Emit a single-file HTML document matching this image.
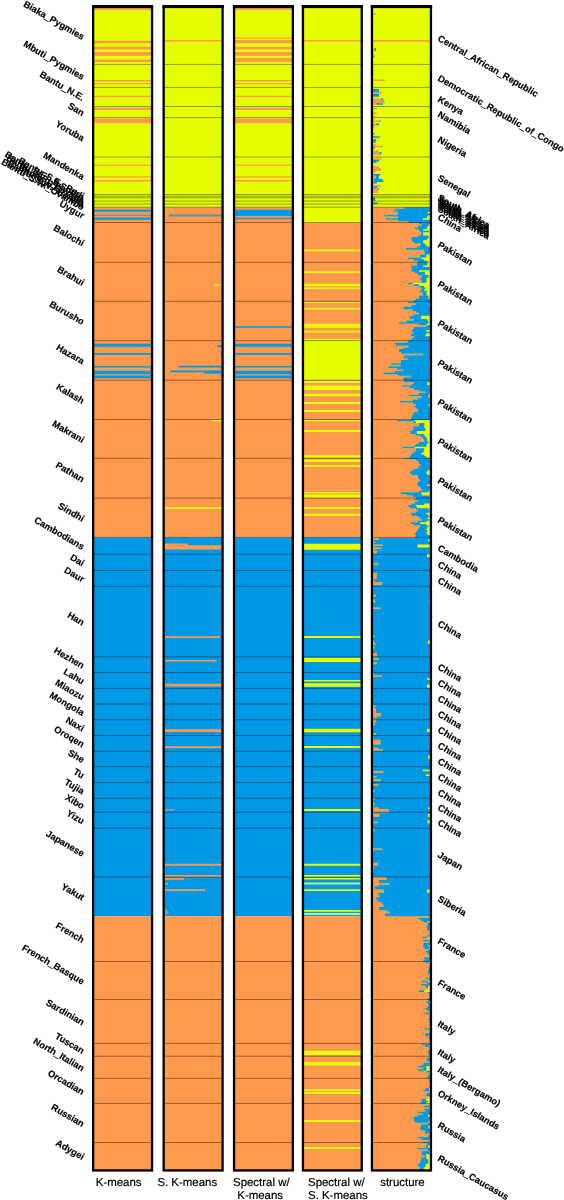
<!DOCTYPE html>
<html lang="en">
<head>
<meta charset="utf-8">
<title>Population structure: clustering comparison</title>
<style>
html,body{margin:0;padding:0;background:#fff;}
body{width:564px;height:1200px;overflow:hidden;font-family:"Liberation Sans",sans-serif;}
svg{display:block;}
text{font-family:"Liberation Sans",sans-serif;}
</style>
</head>
<body>
<svg width="564" height="1200" viewBox="0 0 564 1200">
<defs><filter id="g" x="0" y="0" width="1" height="1" color-interpolation-filters="sRGB"><feColorMatrix type="saturate" values="0"/></filter></defs>
<rect width="564" height="1200" fill="#fff"/>
<g shape-rendering="auto">
<rect x="93" y="7" width="59.2" height="200.3" fill="#e6ff00"/>
<rect x="93" y="207.3" width="59.2" height="330.1" fill="#ff994d"/>
<rect x="93" y="537.4" width="59.2" height="378.85" fill="#0099e6"/>
<rect x="93" y="916.25" width="59.2" height="253.75" fill="#ff994d"/>
<rect x="163.5" y="7" width="59.25" height="200.3" fill="#e6ff00"/>
<rect x="163.5" y="207.3" width="59.25" height="330.1" fill="#ff994d"/>
<rect x="163.5" y="537.4" width="59.25" height="378.85" fill="#0099e6"/>
<rect x="163.5" y="916.25" width="59.25" height="253.75" fill="#ff994d"/>
<rect x="233.9" y="7" width="59.1" height="200.3" fill="#e6ff00"/>
<rect x="233.9" y="207.3" width="59.1" height="330.1" fill="#ff994d"/>
<rect x="233.9" y="537.4" width="59.1" height="378.85" fill="#0099e6"/>
<rect x="233.9" y="916.25" width="59.1" height="253.75" fill="#ff994d"/>
<rect x="302.8" y="7" width="59.1" height="215.8" fill="#e6ff00"/>
<rect x="302.8" y="222.8" width="59.1" height="314.6" fill="#ff994d"/>
<rect x="302.8" y="537.4" width="59.1" height="378.85" fill="#0099e6"/>
<rect x="302.8" y="916.25" width="59.1" height="253.75" fill="#ff994d"/>
<path fill="#ff994d" d="M93 7H152.2V9.9H93zM93 40.8H152.2V43.3H93zM93 46.8H152.2V49.5H93zM93 52.1H152.2V55.7H93zM93 59.5H152.2V62H93zM93 80H152.2V81.2H93zM93 83.1H152.2V84.3H93zM93 95.8H152.2V97H93zM93 107.8H152.2V110H93zM93 118.5H152.2V123.3H93zM93 164.5H152.2V165.8H93zM93 176.2H152.2V177.4H93zM93 180H152.2V181.5H93z"/>
<path fill="#0099e6" d="M93 209.8H152.2V211.7H93zM93 217.6H152.2V219.8H93zM93 343.75H152.2V346.75H93zM93 353H152.2V354.75H93zM93 366H152.2V367.5H93zM93 370.75H152.2V374.25H93zM93 375.5H152.2V378.25H93z"/>
<path fill="#ff994d" d="M163.5 40H222.75V41.5H163.5zM163.5 543.4H187.8V545.3H163.5zM163.5 545.3H222.75V549.6H163.5zM163.5 636.25H220V638H163.5zM163.5 660H216.8V661.5H163.5zM163.5 683.75H222.75V686.5H163.5zM163.5 729.25H222.75V732H163.5zM163.5 746.25H222.75V748H163.5zM163.5 863.75H222.75V865.75H163.5zM163.5 875H222.75V877H163.5zM163.5 878H184V879.75H163.5zM163.5 883H168V884.5H163.5zM163.5 889.25H205V891H163.5zM163.5 910.2H167.5V911.4H163.5zM163.5 912.6H168.5V913.8H163.5z"/>
<path fill="#0099e6" d="M217.3 345.2H222.75V347H217.3zM220.6 352.4H222.75V354.8H220.6zM178.8 365.8H222.75V367.5H178.8zM170.2 370.4H222.75V372.2H170.2zM204.5 371.2H222.75V373.7H204.5z"/>
<path fill="#e6ff00" d="M220.6 248.8H222.75V250H220.6zM220.6 271.5H222.75V272.7H220.6zM214 284.5H220.8V285.8H214zM212.25 420H222.75V421.25H212.25zM163.5 507.2H222.75V509H163.5zM220.8 545.4H222.75V547.8H220.8z"/>
<path fill="#8f9da6" d="M163.5 809H174V810.75H163.5z"/>
<path fill="#5590b4" d="M93 214.8H152.2V215.7H93z"/>
<path fill="#5590b4" d="M169 214.6H222.75V216.4H169z"/>
<path fill="#ff994d" d="M233.9 7H293V9.9H233.9zM233.9 37.4H293V38.7H233.9zM233.9 40H293V43.3H233.9zM233.9 46.8H293V49.5H233.9zM233.9 52.1H293V55.7H233.9zM233.9 58H293V62H233.9zM233.9 80H293V81.2H233.9zM233.9 83.1H293V84.3H233.9zM233.9 95.8H293V97H233.9zM233.9 107.8H293V110H233.9zM233.9 118.5H293V123.3H233.9zM233.9 164.5H293V165.8H233.9zM233.9 176.2H293V177.4H233.9zM233.9 180H293V181.5H233.9z"/>
<path fill="#0099e6" d="M233.9 209.8H293V216H233.9zM233.9 326.25H293V327.75H233.9zM233.9 343.75H293V346.75H233.9zM233.9 353H293V354.75H233.9zM233.9 366H293V367.5H233.9zM233.9 370.75H293V374.25H233.9zM233.9 375.5H293V378.25H233.9z"/>
<path fill="#5590b4" d="M233.9 217.6H293V219.6H233.9z"/>
<path fill="#ff994d" d="M302.8 40H361.9V41.5H302.8z"/>
<path fill="#e6ff00" d="M302.8 249.6H361.9V251.3H302.8zM302.8 271.25H361.9V273.1H302.8zM302.8 283.75H361.9V286.25H302.8zM302.8 287.5H361.9V289H302.8zM302.8 301.9H361.9V302.9H302.8zM302.8 307.9H361.9V309.6H302.8zM302.8 323.75H361.9V327.75H302.8zM302.8 330.8H361.9V332.5H302.8zM302.8 338.75H361.9V380H302.8zM302.8 381H361.9V383.1H302.8zM302.8 385.6H361.9V390H302.8zM302.8 393.75H361.9V396.25H302.8zM302.8 401.9H361.9V404H302.8zM302.8 410H361.9V412.1H302.8zM302.8 420H361.9V421.3H302.8zM302.8 430H361.9V432.1H302.8zM302.8 455.25H361.9V457.6H302.8zM302.8 459.6H361.9V461.9H302.8zM302.8 465H361.9V466.9H302.8zM302.8 491.9H361.9V493.6H302.8zM302.8 494.4H361.9V497.8H302.8zM302.8 506.9H361.9V509H302.8zM302.8 513.75H361.9V515.9H302.8zM302.8 543.75H361.9V549.75H302.8zM302.8 636H361.9V638.1H302.8zM302.8 657.7H361.9V661.9H302.8zM302.8 680H361.9V681.5H302.8zM302.8 683.25H361.9V686.75H302.8zM302.8 728.75H361.9V732.25H302.8zM302.8 746H361.9V748H302.8zM302.8 809H361.9V811H302.8zM302.8 863.75H361.9V865.75H302.8zM302.8 875H361.9V877H302.8zM302.8 878H361.9V879.5H302.8zM302.8 889.25H361.9V891H302.8zM302.8 910H361.9V911.75H302.8zM302.8 1050.75H361.9V1055H302.8zM302.8 1062H361.9V1065.5H302.8zM302.8 1089.25H361.9V1091H302.8zM302.8 1092H361.9V1094H302.8zM302.8 1120H361.9V1122H302.8zM302.8 1147H361.9V1149H302.8z"/>
<path fill="#b9f27a" d="M302.8 882.5H361.9V884.5H302.8zM302.8 913H361.9V915H302.8z"/>
<rect x="371.8" y="7" width="59.3" height="1163" fill="#e6ff00"/>
<path fill="#ff994d" d="M371.8 7H372.11V8.58H371.8zM371.8 8.58H372.32V10.15H371.8zM371.8 13.3H374.79V14.88H371.8zM371.8 18.03H372.32V19.61H371.8zM371.8 21.18H372.64V22.76H371.8zM371.8 22.76H372.82V24.33H371.8zM371.8 27.49H372.64V29.06H371.8zM371.8 33.79H372.32V35.37H371.8zM371.8 35.37H372.64V36.94H371.8zM371.8 36.94H372.64V38.52H371.8zM371.8 38.52H372.64V40.09H371.8zM371.8 40.09H431.1V41.67H371.8zM371.8 43.25H371.89V44.82H371.8zM371.8 47.97H374.92V49.55H371.8zM371.8 49.55H374.13V51.12H371.8zM371.8 51.12H372.11V52.7H371.8zM371.8 52.7H372.64V54.28H371.8zM371.8 59H372.11V60.58H371.8zM371.8 60.58H372.32V62.16H371.8zM371.8 62.16H372.32V63.73H371.8zM371.8 63.73H372.64V65.31H371.8zM371.8 66.88H372.32V68.46H371.8zM371.8 68.46H372.11V70.04H371.8zM371.8 70.04H372.32V71.61H371.8zM371.8 73.19H372.64V74.76H371.8zM371.8 74.76H372.11V76.34H371.8zM371.8 76.34H372.11V77.91H371.8zM371.8 77.91H372.32V79.49H371.8zM371.8 79.49H384.77V81.07H371.8zM371.8 82.64H372.32V84.22H371.8zM371.8 85.79H372.64V87.37H371.8zM371.8 87.37H372.11V88.95H371.8zM371.8 88.95H372.81V90.52H371.8zM371.8 90.52H372.88V92.1H371.8zM371.8 92.1H381.39V93.67H371.8zM371.8 93.67H371.97V95.25H371.8zM371.8 95.25H372.62V96.83H371.8zM371.8 96.83H372.32V98.4H371.8zM371.8 98.4H380.83V99.98H371.8zM371.8 99.98H383.59V101.55H371.8zM371.8 101.55H383.78V103.13H371.8zM371.8 103.13H376.26V104.7H371.8zM371.8 104.7H372.32V106.28H371.8zM371.8 107.86H376.64V109.43H371.8zM371.8 111.01H372.32V112.58H371.8zM371.8 112.58H375.6V114.16H371.8zM371.8 115.74H374.99V117.31H371.8zM371.8 117.31H372.11V118.89H371.8zM371.8 118.89H372.64V120.46H371.8zM371.8 120.46H380.39V122.04H371.8zM371.8 122.04H372.32V123.62H371.8zM371.8 123.62H375.86V125.19H371.8zM371.8 131.49H372.11V133.07H371.8zM371.8 136.22H372.35V137.8H371.8zM371.8 139.37H372.8V140.95H371.8zM371.8 140.95H371.88V142.53H371.8zM371.8 142.53H372.11V144.1H371.8zM371.8 144.1H375.83V145.68H371.8zM371.8 145.68H381.69V147.25H371.8zM371.8 147.25H372.28V148.83H371.8zM371.8 150.41H376.55V151.98H371.8zM371.8 151.98H379.9V153.56H371.8zM371.8 153.56H379.77V155.13H371.8zM371.8 155.13H372.64V156.71H371.8zM371.8 158.28H381.77V159.86H371.8zM371.8 159.86H372.6V161.44H371.8zM371.8 161.44H372.33V163.01H371.8zM371.8 163.01H372.64V164.59H371.8zM371.8 166.16H378.44V167.74H371.8zM371.8 167.74H380.55V169.32H371.8zM371.8 169.32H379.85V170.89H371.8zM371.8 170.89H375.56V172.47H371.8zM371.8 174.04H373.15V175.62H371.8zM371.8 175.62H376.02V177.2H371.8zM371.8 177.2H375.4V178.77H371.8zM371.8 178.77H373.62V180.35H371.8zM371.8 180.35H374.14V181.92H371.8zM371.8 181.92H372.78V183.5H371.8zM371.8 183.5H372.11V185.07H371.8zM371.8 185.07H379.67V186.65H371.8zM371.8 186.65H372.81V188.23H371.8zM371.8 188.23H378.08V189.8H371.8zM371.8 189.8H378.24V191.38H371.8zM371.8 191.38H378.61V192.95H371.8zM371.8 194.53H372.32V196.11H371.8zM371.8 196.11H372.32V197.68H371.8zM371.8 200.83H372.32V202.41H371.8zM371.8 207.14H404.34V208.71H371.8zM371.8 208.71H395.94V210.29H371.8zM371.8 210.29H393.84V211.86H371.8zM371.8 211.86H398.04V213.44H371.8zM371.8 213.44H398.04V215.02H371.8zM371.8 215.02H384.39V216.59H371.8zM371.8 216.59H398.04V218.17H371.8zM371.8 218.17H385.44V219.74H371.8zM371.8 219.74H398.04V221.32H371.8zM371.8 221.32H408.53V222.9H371.8zM371.8 222.9H419.03V224.47H371.8zM371.8 224.47H421.65V226.05H371.8zM371.8 226.05H417.98V227.62H371.8zM371.8 227.62H414.83V229.2H371.8zM371.8 229.2H419.03V230.78H371.8zM371.8 230.78H420.08V232.35H371.8zM371.8 232.35H421.65V233.93H371.8zM371.8 233.93H421.13V235.5H371.8zM371.8 235.5H417.98V237.08H371.8zM371.8 237.08H411.68V238.65H371.8zM371.8 238.65H411.16V240.23H371.8zM371.8 240.23H411.68V241.81H371.8zM371.8 241.81H413.78V243.38H371.8zM371.8 243.38H421.13V244.96H371.8zM371.8 244.96H420.08V246.53H371.8zM371.8 246.53H416.93V248.11H371.8zM371.8 248.11H405.91V249.69H371.8zM371.8 249.69H424.28V251.26H371.8zM371.8 251.26H424.28V252.84H371.8zM371.8 252.84H424.8V254.41H371.8zM371.8 254.41H419.66V255.99H371.8zM371.8 255.99H420.08V257.57H371.8zM371.8 257.57H407.48V259.14H371.8zM371.8 259.14H413.78V260.72H371.8zM371.8 260.72H417.98V262.29H371.8zM371.8 262.29H416.93V263.87H371.8zM371.8 263.87H416.93V265.44H371.8zM371.8 265.44H411.16V267.02H371.8zM371.8 267.02H411.68V268.6H371.8zM371.8 268.6H411.68V270.17H371.8zM371.8 270.17H411.16V271.75H371.8zM371.8 271.75H414.83V273.32H371.8zM371.8 273.32H417.98V274.9H371.8zM371.8 274.9H421.65V276.48H371.8zM371.8 276.48H421.65V278.05H371.8zM371.8 278.05H420.08V279.63H371.8zM371.8 279.63H421.65V281.2H371.8zM371.8 281.2H421.13V282.78H371.8zM371.8 282.78H407.48V284.36H371.8zM371.8 284.36H413.78V285.93H371.8zM371.8 285.93H418.51V287.51H371.8zM371.8 287.51H421.65V289.08H371.8zM371.8 289.08H421.13V290.66H371.8zM371.8 290.66H419.03V292.23H371.8zM371.8 292.23H422.18V293.81H371.8zM371.8 293.81H423.23V295.39H371.8zM371.8 295.39H419.03V296.96H371.8zM371.8 296.96H419.03V298.54H371.8zM371.8 298.54H415.88V300.11H371.8zM371.8 300.11H413.78V301.69H371.8zM371.8 301.69H407.48V303.27H371.8zM371.8 303.27H415.88V304.84H371.8zM371.8 304.84H411.68V306.42H371.8zM371.8 306.42H403.29V307.99H371.8zM371.8 307.99H403.29V309.57H371.8zM371.8 309.57H412.73V311.14H371.8zM371.8 311.14H415.88V312.72H371.8zM371.8 312.72H419.03V314.3H371.8zM371.8 314.3H413.78V315.87H371.8zM371.8 315.87H409.58V317.45H371.8zM371.8 317.45H409.58V319.02H371.8zM371.8 319.02H413.78V320.6H371.8zM371.8 320.6H406.44V322.18H371.8zM371.8 322.18H399.09V323.75H371.8zM371.8 323.75H419.03V325.33H371.8zM371.8 325.33H426.38V326.9H371.8zM371.8 326.9H413.78V328.48H371.8zM371.8 328.48H412.73V330.06H371.8zM371.8 330.06H411.68V331.63H371.8zM371.8 331.63H413.78V333.21H371.8zM371.8 333.21H411.68V334.78H371.8zM371.8 334.78H410.63V336.36H371.8zM371.8 336.36H413.78V337.93H371.8zM371.8 337.93H411.68V339.51H371.8zM371.8 339.51H408.53V341.09H371.8zM371.8 341.09H407.48V342.66H371.8zM371.8 342.66H394.89V344.24H371.8zM371.8 344.24H395.94V345.81H371.8zM371.8 345.81H408.53V347.39H371.8zM371.8 347.39H403.29V348.97H371.8zM371.8 348.97H399.09V350.54H371.8zM371.8 350.54H399.09V352.12H371.8zM371.8 352.12H401.19V353.69H371.8zM371.8 353.69H423.23V355.27H371.8zM371.8 355.27H404.34V356.85H371.8zM371.8 356.85H403.29V358.42H371.8zM371.8 358.42H407.48V360H371.8zM371.8 360H400.66V361.57H371.8zM371.8 361.57H400.66V363.15H371.8zM371.8 363.15H390.69V364.72H371.8zM371.8 364.72H400.66V366.3H371.8zM371.8 366.3H388.59V367.88H371.8zM371.8 367.88H396.99V369.45H371.8zM371.8 369.45H403.29V371.03H371.8zM371.8 371.03H394.89V372.6H371.8zM371.8 372.6H383.35V374.18H371.8zM371.8 374.18H398.04V375.76H371.8zM371.8 375.76H411.16V377.33H371.8zM371.8 377.33H403.29V378.91H371.8zM371.8 378.91H403.29V380.48H371.8zM371.8 380.48H404.34V382.06H371.8zM371.8 382.06H413.78V383.64H371.8zM371.8 383.64H411.68V385.21H371.8zM371.8 385.21H402.24V386.79H371.8zM371.8 386.79H409.58V388.36H371.8zM371.8 388.36H413.78V389.94H371.8zM371.8 389.94H419.03V391.51H371.8zM371.8 391.51H425.33V393.09H371.8zM371.8 393.09H419.03V394.67H371.8zM371.8 394.67H408.53V396.24H371.8zM371.8 396.24H421.65V397.82H371.8zM371.8 397.82H417.98V399.39H371.8zM371.8 399.39H412.73V400.97H371.8zM371.8 400.97H400.14V402.55H371.8zM371.8 402.55H412.73V404.12H371.8zM371.8 404.12H415.88V405.7H371.8zM371.8 405.7H413.78V407.27H371.8zM371.8 407.27H415.88V408.85H371.8zM371.8 408.85H417.98V410.43H371.8zM371.8 410.43H417.98V412H371.8zM371.8 412H413.78V413.58H371.8zM371.8 413.58H412.73V415.15H371.8zM371.8 415.15H411.68V416.73H371.8zM371.8 416.73H411.68V418.3H371.8zM371.8 418.3H410.63V419.88H371.8zM371.8 419.88H396.99V421.46H371.8zM371.8 421.46H413.78V423.03H371.8zM371.8 423.03H419.03V424.61H371.8zM371.8 424.61H419.03V426.18H371.8zM371.8 426.18H412.73V427.76H371.8zM371.8 427.76H413.78V429.34H371.8zM371.8 429.34H412.73V430.91H371.8zM371.8 430.91H409.58V432.49H371.8zM371.8 432.49H410.63V434.06H371.8zM371.8 434.06H415.88V435.64H371.8zM371.8 435.64H421.13V437.22H371.8zM371.8 437.22H422.7V438.79H371.8zM371.8 438.79H423.75V440.37H371.8zM371.8 440.37H424.28V441.94H371.8zM371.8 441.94H419.03V443.52H371.8zM371.8 443.52H415.88V445.09H371.8zM371.8 445.09H414.83V446.67H371.8zM371.8 446.67H402.24V448.25H371.8zM371.8 448.25H415.88V449.82H371.8zM371.8 449.82H415.88V451.4H371.8zM371.8 451.4H413.78V452.97H371.8zM371.8 452.97H411.68V454.55H371.8zM371.8 454.55H410.63V456.13H371.8zM371.8 456.13H409.58V457.7H371.8zM371.8 457.7H404.34V459.28H371.8zM371.8 459.28H415.88V460.85H371.8zM371.8 460.85H417.98V462.43H371.8zM371.8 462.43H419.03V464.01H371.8zM371.8 464.01H421.13V465.58H371.8zM371.8 465.58H419.03V467.16H371.8zM371.8 467.16H417.98V468.73H371.8zM371.8 468.73H413.78V470.31H371.8zM371.8 470.31H410.63V471.88H371.8zM371.8 471.88H409.58V473.46H371.8zM371.8 473.46H411.68V475.04H371.8zM371.8 475.04H417.98V476.61H371.8zM371.8 476.61H417.98V478.19H371.8zM371.8 478.19H419.03V479.76H371.8zM371.8 479.76H420.08V481.34H371.8zM371.8 481.34H417.98V482.92H371.8zM371.8 482.92H416.93V484.49H371.8zM371.8 484.49H417.98V486.07H371.8zM371.8 486.07H420.08V487.64H371.8zM371.8 487.64H421.13V489.22H371.8zM371.8 489.22H421.65V490.8H371.8zM371.8 490.8H419.03V492.37H371.8zM371.8 492.37H400.66V493.95H371.8zM371.8 493.95H406.44V495.52H371.8zM371.8 495.52H412.73V497.1H371.8zM371.8 497.1H415.88V498.67H371.8zM371.8 498.67H413.78V500.25H371.8zM371.8 500.25H417.98V501.83H371.8zM371.8 501.83H414.83V503.4H371.8zM371.8 503.4H411.68V504.98H371.8zM371.8 504.98H407.48V506.55H371.8zM371.8 506.55H409.58V508.13H371.8zM371.8 508.13H415.88V509.71H371.8zM371.8 509.71H417.98V511.28H371.8zM371.8 511.28H415.88V512.86H371.8zM371.8 512.86H410.63V514.43H371.8zM371.8 514.43H411.68V516.01H371.8zM371.8 516.01H417.98V517.59H371.8zM371.8 517.59H420.08V519.16H371.8zM371.8 519.16H421.65V520.74H371.8zM371.8 520.74H417.98V522.31H371.8zM371.8 522.31H410.63V523.89H371.8zM371.8 523.89H413.78V525.46H371.8zM371.8 525.46H420.08V527.04H371.8zM371.8 527.04H419.03V528.62H371.8zM371.8 528.62H417.98V530.19H371.8zM371.8 530.19H416.93V531.77H371.8zM371.8 531.77H415.88V533.34H371.8zM371.8 533.34H414.83V534.92H371.8zM371.8 534.92H415.88V536.5H371.8zM371.8 536.5H414.83V538.07H371.8zM371.8 538.07H378.78V539.65H371.8zM371.8 539.65H373.27V541.22H371.8zM371.8 541.22H375.27V542.8H371.8zM371.8 542.8H372.22V544.38H371.8zM371.8 544.38H382.64V545.95H371.8zM371.8 545.95H374.4V547.53H371.8zM371.8 547.53H381.41V549.1H371.8zM371.8 549.1H374.79V550.68H371.8zM371.8 550.68H377.1V552.25H371.8zM371.8 552.25H376.66V553.83H371.8zM371.8 555.41H372.82V556.98H371.8zM371.8 556.98H372.01V558.56H371.8zM371.8 558.56H372.22V560.13H371.8zM371.8 560.13H372.22V561.71H371.8zM371.8 561.71H372.01V563.29H371.8zM371.8 563.29H378.85V564.86H371.8zM371.8 564.86H373.06V566.44H371.8zM371.8 566.44H373.06V568.01H371.8zM371.8 568.01H372.43V569.59H371.8zM371.8 569.59H372.74V571.17H371.8zM371.8 571.17H372.01V572.74H371.8zM371.8 572.74H376.94V574.32H371.8zM371.8 574.32H376.69V575.89H371.8zM371.8 575.89H376.85V577.47H371.8zM371.8 577.47H376.54V579.04H371.8zM371.8 579.04H373.06V580.62H371.8zM371.8 580.62H374.98V582.2H371.8zM371.8 582.2H382.32V583.77H371.8zM371.8 583.77H381.79V585.35H371.8zM371.8 585.35H372.74V586.92H371.8zM371.8 586.92H373.06V588.5H371.8zM371.8 588.5H373.66V590.08H371.8zM371.8 590.08H372.22V591.65H371.8zM371.8 591.65H372.22V593.23H371.8zM371.8 593.23H373.06V594.8H371.8zM371.8 594.8H376.06V596.38H371.8zM371.8 596.38H372.43V597.96H371.8zM371.8 597.96H373.06V599.53H371.8zM371.8 599.53H374.93V601.11H371.8zM371.8 601.11H375.24V602.68H371.8zM371.8 602.68H373.06V604.26H371.8zM371.8 604.26H372.06V605.83H371.8zM371.8 605.83H372.43V607.41H371.8zM371.8 607.41H380.48V608.99H371.8zM371.8 608.99H373.06V610.56H371.8zM371.8 610.56H373.06V612.14H371.8zM371.8 612.14H372.01V613.71H371.8zM371.8 613.71H372.43V615.29H371.8zM371.8 615.29H373.06V616.87H371.8zM371.8 616.87H373.06V618.44H371.8zM371.8 618.44H372.43V620.02H371.8zM371.8 620.02H373.06V621.59H371.8zM371.8 621.59H372.74V623.17H371.8zM371.8 623.17H372.22V624.75H371.8zM371.8 624.75H372.43V626.32H371.8zM371.8 626.32H372.22V627.9H371.8zM371.8 627.9H372.22V629.47H371.8zM371.8 629.47H372.01V631.05H371.8zM371.8 631.05H372.74V632.62H371.8zM371.8 632.62H372.01V634.2H371.8zM371.8 634.2H372.74V635.78H371.8zM371.8 635.78H374.65V637.35H371.8zM371.8 637.35H372.43V638.93H371.8zM371.8 638.93H372.22V640.5H371.8zM371.8 640.5H374.05V642.08H371.8zM371.8 642.08H374.83V643.66H371.8zM371.8 643.66H375.44V645.23H371.8zM371.8 645.23H372.22V646.81H371.8zM371.8 646.81H374.84V648.38H371.8zM371.8 648.38H372.74V649.96H371.8zM371.8 649.96H372.22V651.54H371.8zM371.8 651.54H372.74V653.11H371.8zM371.8 653.11H376.95V654.69H371.8zM371.8 654.69H376.97V656.26H371.8zM371.8 656.26H372.43V657.84H371.8zM371.8 657.84H378.72V659.41H371.8zM371.8 659.41H372.43V660.99H371.8zM371.8 660.99H372.43V662.57H371.8zM371.8 662.57H377V664.14H371.8zM371.8 664.14H372.01V665.72H371.8zM371.8 665.72H372.43V667.29H371.8zM371.8 667.29H373.5V668.87H371.8zM371.8 668.87H373.06V670.45H371.8zM371.8 670.45H372.01V672.02H371.8zM371.8 672.02H372.01V673.6H371.8zM371.8 673.6H374.18V675.17H371.8zM371.8 675.17H381.81V676.75H371.8zM371.8 676.75H372.22V678.33H371.8zM371.8 678.33H372.59V679.9H371.8zM371.8 679.9H372.74V681.48H371.8zM371.8 681.48H372.23V683.05H371.8zM371.8 683.05H373.06V684.63H371.8zM371.8 684.63H372.4V686.2H371.8zM371.8 686.2H372.54V687.78H371.8zM371.8 687.78H372.01V689.36H371.8zM371.8 689.36H372.01V690.93H371.8zM371.8 690.93H372.74V692.51H371.8zM371.8 692.51H372.43V694.08H371.8zM371.8 694.08H372.01V695.66H371.8zM371.8 695.66H372.01V697.24H371.8zM371.8 697.24H372.22V698.81H371.8zM371.8 698.81H372.43V700.39H371.8zM371.8 700.39H372.74V701.96H371.8zM371.8 701.96H372.16V703.54H371.8zM371.8 703.54H373.06V705.12H371.8zM371.8 705.12H375.4V706.69H371.8zM371.8 706.69H374.71V708.27H371.8zM371.8 708.27H375.61V709.84H371.8zM371.8 709.84H376.03V711.42H371.8zM371.8 711.42H375.72V712.99H371.8zM371.8 712.99H380.84V714.57H371.8zM371.8 714.57H380.89V716.15H371.8zM371.8 716.15H376.58V717.72H371.8zM371.8 717.72H372.22V719.3H371.8zM371.8 719.3H376.13V720.87H371.8zM371.8 720.87H376.03V722.45H371.8zM371.8 722.45H374.64V724.03H371.8zM371.8 724.03H374.89V725.6H371.8zM371.8 725.6H372.22V727.18H371.8zM371.8 727.18H372.43V728.75H371.8zM371.8 728.75H372.84V730.33H371.8zM371.8 731.91H372.01V733.48H371.8zM371.8 733.48H376.05V735.06H371.8zM371.8 735.06H372.22V736.63H371.8zM371.8 736.63H372.74V738.21H371.8zM371.8 738.21H372.74V739.78H371.8zM371.8 739.78H380.36V741.36H371.8zM371.8 741.36H380.35V742.94H371.8zM371.8 742.94H380.36V744.51H371.8zM371.8 744.51H373.06V746.09H371.8zM371.8 746.09H373.06V747.66H371.8zM371.8 747.66H378.29V749.24H371.8zM371.8 749.24H382.8V750.82H371.8zM371.8 750.82H372.43V752.39H371.8zM371.8 752.39H372.22V753.97H371.8zM371.8 753.97H372.43V755.54H371.8zM371.8 755.54H372.68V757.12H371.8zM371.8 758.7H372.43V760.27H371.8zM371.8 760.27H372.22V761.85H371.8zM371.8 761.85H372.01V763.42H371.8zM371.8 763.42H373.06V765H371.8zM371.8 765H373.06V766.57H371.8zM371.8 766.57H372.43V768.15H371.8zM371.8 768.15H373.33V769.73H371.8zM371.8 769.73H372.49V771.3H371.8zM371.8 771.3H383.29V772.88H371.8zM371.8 772.88H372.43V774.45H371.8zM371.8 774.45H372.81V776.03H371.8zM371.8 776.03H376.49V777.61H371.8zM371.8 777.61H373.06V779.18H371.8zM371.8 779.18H380.98V780.76H371.8zM371.8 780.76H372.43V782.33H371.8zM371.8 782.33H372.43V783.91H371.8zM371.8 783.91H378.62V785.49H371.8zM371.8 785.49H372.74V787.06H371.8zM371.8 787.06H372.74V788.64H371.8zM371.8 788.64H373.06V790.21H371.8zM371.8 790.21H374.68V791.79H371.8zM371.8 791.79H372.01V793.36H371.8zM371.8 793.36H372.43V794.94H371.8zM371.8 794.94H372.22V796.52H371.8zM371.8 796.52H373.06V798.09H371.8zM371.8 798.09H374.84V799.67H371.8zM371.8 799.67H372.43V801.24H371.8zM371.8 801.24H372.22V802.82H371.8zM371.8 802.82H374.51V804.4H371.8zM371.8 804.4H374.45V805.97H371.8zM371.8 805.97H372.22V807.55H371.8zM371.8 807.55H379.03V809.12H371.8zM371.8 809.12H388.41V810.7H371.8zM371.8 810.7H389.1V812.28H371.8zM371.8 812.28H372.22V813.85H371.8zM371.8 813.85H379.38V815.43H371.8zM371.8 815.43H379.3V817H371.8zM371.8 817H372.01V818.58H371.8zM371.8 818.58H372.74V820.15H371.8zM371.8 820.15H372.47V821.73H371.8zM371.8 821.73H378.12V823.31H371.8zM371.8 823.31H373.06V824.88H371.8zM371.8 824.88H372.01V826.46H371.8zM371.8 826.46H372.22V828.03H371.8zM371.8 828.03H374.46V829.61H371.8zM371.8 829.61H374.56V831.19H371.8zM371.8 831.19H372.43V832.76H371.8zM371.8 832.76H372.74V834.34H371.8zM371.8 834.34H373.06V835.91H371.8zM371.8 835.91H372.01V837.49H371.8zM371.8 837.49H372.22V839.07H371.8zM371.8 839.07H373.13V840.64H371.8zM371.8 840.64H373.33V842.22H371.8zM371.8 842.22H372.92V843.79H371.8zM371.8 843.79H373.06V845.37H371.8zM371.8 845.37H372.01V846.94H371.8zM371.8 846.94H372.01V848.52H371.8zM371.8 848.52H382.04V850.1H371.8zM371.8 850.1H373.45V851.67H371.8zM371.8 851.67H372.43V853.25H371.8zM371.8 853.25H372.22V854.82H371.8zM371.8 854.82H372.74V856.4H371.8zM371.8 856.4H372.74V857.98H371.8zM371.8 857.98H372.74V859.55H371.8zM371.8 859.55H372.01V861.13H371.8zM371.8 861.13H372.22V862.7H371.8zM371.8 862.7H378.2V864.28H371.8zM371.8 864.28H377.92V865.86H371.8zM371.8 865.86H372.43V867.43H371.8zM371.8 867.43H373.97V869.01H371.8zM371.8 869.01H372.01V870.58H371.8zM371.8 870.58H372.01V872.16H371.8zM371.8 872.16H372.43V873.73H371.8zM371.8 873.73H372.22V875.31H371.8zM371.8 875.31H372.43V876.89H371.8zM371.8 876.89H386.27V878.46H371.8zM371.8 878.46H386.46V880.04H371.8zM371.8 880.04H378.9V881.61H371.8zM371.8 881.61H379.14V883.19H371.8zM371.8 883.19H389.69V884.77H371.8zM371.8 884.77H378.95V886.34H371.8zM371.8 886.34H374.51V887.92H371.8zM371.8 887.92H374.92V889.49H371.8zM371.8 889.49H384.17V891.07H371.8zM371.8 891.07H383.95V892.64H371.8zM371.8 892.64H378.1V894.22H371.8zM371.8 894.22H378.62V895.8H371.8zM371.8 895.8H379.67V897.37H371.8zM371.8 897.37H375.88V898.95H371.8zM371.8 898.95H376.44V900.52H371.8zM371.8 900.52H377.5V902.1H371.8zM371.8 902.1H381.85V903.68H371.8zM371.8 903.68H382.92V905.25H371.8zM371.8 905.25H383.6V906.83H371.8zM371.8 906.83H378.9V908.4H371.8zM371.8 908.4H379V909.98H371.8zM371.8 909.98H386.6V911.56H371.8zM371.8 911.56H389.78V913.13H371.8zM371.8 913.13H385.21V914.71H371.8zM371.8 914.71H385.04V916.28H371.8zM371.8 916.28H429.53V917.86H371.8zM371.8 917.86H418.51V919.43H371.8zM371.8 919.43H421.13V921.01H371.8zM371.8 921.01H423.23V922.59H371.8zM371.8 922.59H427.77V924.16H371.8zM371.8 924.16H427.97V925.74H371.8zM371.8 925.74H426.83V927.31H371.8zM371.8 927.31H426.99V928.89H371.8zM371.8 928.89H427.02V930.47H371.8zM371.8 930.47H430.88V932.04H371.8zM371.8 932.04H430.32V933.62H371.8zM371.8 933.62H431.1V935.19H371.8zM371.8 935.19H426.97V936.77H371.8zM371.8 936.77H422.74V938.35H371.8zM371.8 938.35H429.25V939.92H371.8zM371.8 939.92H423.01V941.5H371.8zM371.8 941.5H429.17V943.07H371.8zM371.8 943.07H423.72V944.65H371.8zM371.8 944.65H422.97V946.22H371.8zM371.8 946.22H423.34V947.8H371.8zM371.8 947.8H424.45V949.38H371.8zM371.8 949.38H428.68V950.95H371.8zM371.8 950.95H425.78V952.53H371.8zM371.8 952.53H427.26V954.1H371.8zM371.8 954.1H428.64V955.68H371.8zM371.8 955.68H429.53V957.26H371.8zM371.8 957.26H423.63V958.83H371.8zM371.8 958.83H424.71V960.41H371.8zM371.8 960.41H422.99V961.98H371.8zM371.8 961.98H425.95V963.56H371.8zM371.8 963.56H430.05V965.14H371.8zM371.8 965.14H429.75V966.71H371.8zM371.8 966.71H429.03V968.29H371.8zM371.8 968.29H428.69V969.86H371.8zM371.8 969.86H428.23V971.44H371.8zM371.8 971.44H428.03V973.01H371.8zM371.8 973.01H427.42V974.59H371.8zM371.8 974.59H431.1V976.17H371.8zM371.8 976.17H430.18V977.74H371.8zM371.8 977.74H425.58V979.32H371.8zM371.8 979.32H430.05V980.89H371.8zM371.8 980.89H421.43V982.47H371.8zM371.8 982.47H427.06V984.05H371.8zM371.8 984.05H421.07V985.62H371.8zM371.8 985.62H425.37V987.2H371.8zM371.8 987.2H426.74V988.77H371.8zM371.8 988.77H426.36V990.35H371.8zM371.8 990.35H418.57V991.93H371.8zM371.8 991.93H428.1V993.5H371.8zM371.8 993.5H429.15V995.08H371.8zM371.8 995.08H428.75V996.65H371.8zM371.8 996.65H429.07V998.23H371.8zM371.8 998.23H427.39V999.8H371.8zM371.8 999.8H427.74V1001.38H371.8zM371.8 1001.38H426.55V1002.96H371.8zM371.8 1002.96H427.81V1004.53H371.8zM371.8 1004.53H428.4V1006.11H371.8zM371.8 1006.11H427.57V1007.68H371.8zM371.8 1007.68H424.94V1009.26H371.8zM371.8 1009.26H426.93V1010.84H371.8zM371.8 1010.84H430.05V1012.41H371.8zM371.8 1012.41H424.44V1013.99H371.8zM371.8 1013.99H429.7V1015.56H371.8zM371.8 1015.56H429.04V1017.14H371.8zM371.8 1017.14H430.21V1018.72H371.8zM371.8 1018.72H428.03V1020.29H371.8zM371.8 1020.29H429.36V1021.87H371.8zM371.8 1021.87H430.56V1023.44H371.8zM371.8 1023.44H429.25V1025.02H371.8zM371.8 1025.02H430.74V1026.59H371.8zM371.8 1026.59H429.91V1028.17H371.8zM371.8 1028.17H424.39V1029.75H371.8zM371.8 1029.75H430.05V1031.32H371.8zM371.8 1031.32H430.05V1032.9H371.8zM371.8 1032.9H425.4V1034.47H371.8zM371.8 1034.47H424.85V1036.05H371.8zM371.8 1036.05H428.84V1037.63H371.8zM371.8 1037.63H428.58V1039.2H371.8zM371.8 1039.2H429.61V1040.78H371.8zM371.8 1040.78H428.88V1042.35H371.8zM371.8 1042.35H430.99V1043.93H371.8zM371.8 1043.93H421.72V1045.51H371.8zM371.8 1045.51H425.34V1047.08H371.8zM371.8 1047.08H429.66V1048.66H371.8zM371.8 1048.66H429.51V1050.23H371.8zM371.8 1050.23H428.14V1051.81H371.8zM371.8 1051.81H427.86V1053.38H371.8zM371.8 1053.38H429.16V1054.96H371.8zM371.8 1054.96H428.53V1056.54H371.8zM371.8 1056.54H429.84V1058.11H371.8zM371.8 1058.11H426.47V1059.69H371.8zM371.8 1059.69H426.57V1061.26H371.8zM371.8 1061.26H430.05V1062.84H371.8zM371.8 1062.84H423.71V1064.42H371.8zM371.8 1064.42H422.12V1065.99H371.8zM371.8 1065.99H417.76V1067.57H371.8zM371.8 1067.57H423.37V1069.14H371.8zM371.8 1069.14H417.1V1070.72H371.8zM371.8 1070.72H426.42V1072.3H371.8zM371.8 1072.3H427.49V1073.87H371.8zM371.8 1073.87H428.63V1075.45H371.8zM371.8 1075.45H427.46V1077.02H371.8zM371.8 1077.02H426.73V1078.6H371.8zM371.8 1078.6H430.59V1080.17H371.8zM371.8 1080.17H429.28V1081.75H371.8zM371.8 1081.75H431.1V1083.33H371.8zM371.8 1083.33H431.1V1084.9H371.8zM371.8 1084.9H429.92V1086.48H371.8zM371.8 1086.48H429.09V1088.05H371.8zM371.8 1088.05H425.45V1089.63H371.8zM371.8 1089.63H423.25V1091.21H371.8zM371.8 1091.21H430.05V1092.78H371.8zM371.8 1092.78H427.1V1094.36H371.8zM371.8 1094.36H425.8V1095.93H371.8zM371.8 1095.93H430.05V1097.51H371.8zM371.8 1097.51H427.99V1099.09H371.8zM371.8 1099.09H421.41V1100.66H371.8zM371.8 1100.66H421.94V1102.24H371.8zM371.8 1102.24H420.18V1103.81H371.8zM371.8 1103.81H430.05V1105.39H371.8zM371.8 1105.39H423.89V1106.96H371.8zM371.8 1106.96H428.41V1108.54H371.8zM371.8 1108.54H424.08V1110.12H371.8zM371.8 1110.12H425.31V1111.69H371.8zM371.8 1111.69H417.46V1113.27H371.8zM371.8 1113.27H422.66V1114.84H371.8zM371.8 1114.84H417.74V1116.42H371.8zM371.8 1116.42H413.39V1118H371.8zM371.8 1118H413.5V1119.57H371.8zM371.8 1119.57H413.91V1121.15H371.8zM371.8 1121.15H414.94V1122.72H371.8zM371.8 1122.72H427.49V1124.3H371.8zM371.8 1124.3H421.16V1125.88H371.8zM371.8 1125.88H421.08V1127.45H371.8zM371.8 1127.45H419.59V1129.03H371.8zM371.8 1129.03H420.98V1130.6H371.8zM371.8 1130.6H425.22V1132.18H371.8zM371.8 1132.18H424.75V1133.75H371.8zM371.8 1133.75H430.05V1135.33H371.8zM371.8 1135.33H428.31V1136.91H371.8zM371.8 1136.91H417.81V1138.48H371.8zM371.8 1138.48H421.3V1140.06H371.8zM371.8 1140.06H429.48V1141.63H371.8zM371.8 1141.63H422.76V1143.21H371.8zM371.8 1143.21H427.32V1144.79H371.8zM371.8 1144.79H426.14V1146.36H371.8zM371.8 1146.36H426.21V1147.94H371.8zM371.8 1147.94H417.33V1149.51H371.8zM371.8 1149.51H427.69V1151.09H371.8zM371.8 1151.09H421.86V1152.67H371.8zM371.8 1152.67H421.22V1154.24H371.8zM371.8 1154.24H422.28V1155.82H371.8zM371.8 1155.82H424.75V1157.39H371.8zM371.8 1157.39H421.19V1158.97H371.8zM371.8 1158.97H421.19V1160.54H371.8zM371.8 1160.54H420.24V1162.12H371.8zM371.8 1162.12H419.98V1163.7H371.8zM371.8 1163.7H417.59V1165.27H371.8zM371.8 1165.27H418.12V1166.85H371.8zM371.8 1166.85H420.07V1168.42H371.8zM371.8 1168.42H419.22V1170H371.8z"/>
<path fill="#0099e6" d="M371.8 10.15H372.64V11.73H371.8zM374.79 13.3H375.2V14.88H374.79zM371.8 16.46H372.22V18.03H371.8zM372.64 21.18H373.06V22.76H372.64zM372.82 22.76H373.46V24.33H372.82zM371.8 24.33H372.64V25.91H371.8zM371.8 25.91H372.64V27.49H371.8zM372.64 27.49H373.06V29.06H372.64zM371.8 30.64H372.64V32.21H371.8zM371.8 41.67H372.64V43.25H371.8zM371.89 43.25H372.67V44.82H371.89zM371.8 44.82H372.64V46.4H371.8zM371.8 46.4H372.64V47.97H371.8zM374.92 47.97H376.05V49.55H374.92zM374.13 49.55H375.91V51.12H374.13zM372.11 51.12H372.53V52.7H372.11zM372.64 52.7H373.06V54.28H372.64zM371.8 54.28H373.58V55.85H371.8zM371.8 55.85H374.25V57.43H371.8zM371.8 57.43H372.64V59H371.8zM372.11 59H372.95V60.58H372.11zM371.8 65.31H372.64V66.88H371.8zM372.32 70.04H372.74V71.61H372.32zM372.64 73.19H373.48V74.76H372.64zM372.11 76.34H372.95V77.91H372.11zM372.32 77.91H373.16V79.49H372.32zM372.64 85.79H373.06V87.37H372.64zM372.11 87.37H372.53V88.95H372.11zM372.81 88.95H378.95V90.52H372.81zM372.88 90.52H378.96V92.1H372.88zM381.39 92.1H381.76V93.67H381.39zM371.97 93.67H378.88V95.25H371.97zM372.62 95.25H379.02V96.83H372.62zM380.83 98.4H383.22V99.98H380.83zM383.59 99.98H383.94V101.55H383.59zM383.78 101.55H384.46V103.13H383.78zM376.26 103.13H382.91V104.7H376.26zM376.64 107.86H376.71V109.43H376.64zM372.32 111.01H373.16V112.58H372.32zM375.6 112.58H376.25V114.16H375.6zM371.8 114.16H372.22V115.74H371.8zM374.99 115.74H375.09V117.31H374.99zM372.64 118.89H373.48V120.46H372.64zM380.39 120.46H381.02V122.04H380.39zM372.32 122.04H373.16V123.62H372.32zM375.86 123.62H379.02V125.19H375.86zM371.8 125.19H374.07V126.77H371.8zM371.8 126.77H373.35V128.34H371.8zM371.8 128.34H372.22V129.92H371.8zM372.11 131.49H372.95V133.07H372.11zM371.8 133.07H374.32V134.65H371.8zM371.8 134.65H372.64V136.22H371.8zM372.35 136.22H379.5V137.8H372.35zM372.8 139.37H376.14V140.95H372.8zM371.88 140.95H375.69V142.53H371.88zM372.11 142.53H372.95V144.1H372.11zM381.69 145.68H382.39V147.25H381.69zM372.28 147.25H374.93V148.83H372.28zM376.55 150.41H377.9V151.98H376.55zM379.9 151.98H381.66V153.56H379.9zM379.77 153.56H380.65V155.13H379.77zM371.8 156.71H372.64V158.28H371.8zM372.6 159.86H379.33V161.44H372.6zM372.33 161.44H376.43V163.01H372.33zM378.44 166.16H378.66V167.74H378.44zM379.85 169.32H380.59V170.89H379.85zM371.8 172.47H372.22V174.04H371.8zM373.15 174.04H380.38V175.62H373.15zM376.02 175.62H378.96V177.2H376.02zM375.4 177.2H378.55V178.77H375.4zM373.62 178.77H382.52V180.35H373.62zM374.14 180.35H383.4V181.92H374.14zM372.78 181.92H377.07V183.5H372.78zM379.67 185.07H380.22V186.65H379.67zM372.81 186.65H377.37V188.23H372.81zM378.08 188.23H379.23V189.8H378.08zM371.8 197.68H375.12V199.26H371.8zM371.8 199.26H375.51V200.83H371.8zM372.32 200.83H372.74V202.41H372.32zM371.8 202.41H377.61V203.99H371.8zM404.34 207.14H431.1V208.71H404.34zM395.94 208.71H431.1V210.29H395.94zM393.84 210.29H431.1V211.86H393.84zM398.04 211.86H427.95V213.44H398.04zM398.04 213.44H431.1V215.02H398.04zM384.39 215.02H428.48V216.59H384.39zM398.04 216.59H426.9V218.17H398.04zM385.44 218.17H422.7V219.74H385.44zM398.04 219.74H431.1V221.32H398.04zM408.53 221.32H431.1V222.9H408.53zM419.03 222.9H431.1V224.47H419.03zM421.65 224.47H428.48V226.05H421.65zM417.98 226.05H427.43V227.62H417.98zM414.83 227.62H426.9V229.2H414.83zM419.03 229.2H423.23V230.78H419.03zM420.08 230.78H429V232.35H420.08zM421.65 232.35H423.23V233.93H421.65zM421.13 233.93H423.23V235.5H421.13zM417.98 235.5H428.48V237.08H417.98zM411.68 237.08H428.48V238.65H411.68zM411.16 238.65H426.9V240.23H411.16zM411.68 240.23H423.23V241.81H411.68zM413.78 241.81H423.23V243.38H413.78zM421.13 243.38H425.33V244.96H421.13zM420.08 244.96H426.38V246.53H420.08zM416.93 246.53H430.58V248.11H416.93zM405.91 248.11H430.05V249.69H405.91zM424.28 249.69H430.05V251.26H424.28zM424.28 251.26H430.05V252.84H424.28zM424.8 252.84H429.53V254.41H424.8zM419.66 254.41H426.38V255.99H419.66zM420.08 255.99H426.38V257.57H420.08zM407.48 257.57H421.13V259.14H407.48zM413.78 259.14H424.28V260.72H413.78zM417.98 260.72H427.43V262.29H417.98zM416.93 262.29H427.43V263.87H416.93zM416.93 263.87H427.43V265.44H416.93zM411.16 265.44H423.23V267.02H411.16zM411.68 267.02H430.58V268.6H411.68zM411.68 268.6H429.53V270.17H411.68zM411.16 270.17H419.03V271.75H411.16zM414.83 271.75H424.8V273.32H414.83zM417.98 273.32H425.33V274.9H417.98zM421.65 274.9H428.48V276.48H421.65zM421.65 276.48H428.48V278.05H421.65zM420.08 278.05H426.38V279.63H420.08zM421.65 279.63H426.38V281.2H421.65zM421.13 281.2H426.38V282.78H421.13zM407.48 282.78H412.73V284.36H407.48zM413.78 284.36H419.03V285.93H413.78zM418.51 285.93H424.28V287.51H418.51zM421.65 287.51H425.33V289.08H421.65zM421.13 289.08H424.28V290.66H421.13zM419.03 290.66H426.9V292.23H419.03zM422.18 292.23H426.38V293.81H422.18zM423.23 293.81H426.38V295.39H423.23zM419.03 295.39H428.48V296.96H419.03zM419.03 296.96H428.48V298.54H419.03zM415.88 298.54H429.53V300.11H415.88zM413.78 300.11H430.58V301.69H413.78zM407.48 301.69H430.58V303.27H407.48zM415.88 303.27H429.53V304.84H415.88zM411.68 304.84H429.53V306.42H411.68zM403.29 306.42H430.05V307.99H403.29zM403.29 307.99H430.58V309.57H403.29zM412.73 309.57H431.1V311.14H412.73zM415.88 311.14H431.1V312.72H415.88zM419.03 312.72H431.1V314.3H419.03zM413.78 314.3H431.1V315.87H413.78zM409.58 315.87H421.13V317.45H409.58zM409.58 317.45H421.13V319.02H409.58zM413.78 319.02H427.43V320.6H413.78zM406.44 320.6H428.48V322.18H406.44zM399.09 322.18H428.48V323.75H399.09zM419.03 323.75H426.38V325.33H419.03zM426.38 325.33H431.1V326.9H426.38zM413.78 326.9H431.1V328.48H413.78zM412.73 328.48H429.53V330.06H412.73zM411.68 330.06H426.38V331.63H411.68zM413.78 331.63H431.1V333.21H413.78zM411.68 333.21H426.38V334.78H411.68zM410.63 334.78H425.33V336.36H410.63zM413.78 336.36H431.1V337.93H413.78zM411.68 337.93H431.1V339.51H411.68zM408.53 339.51H431.1V341.09H408.53zM407.48 341.09H431.1V342.66H407.48zM394.89 342.66H431.1V344.24H394.89zM395.94 344.24H431.1V345.81H395.94zM408.53 345.81H431.1V347.39H408.53zM403.29 347.39H431.1V348.97H403.29zM399.09 348.97H431.1V350.54H399.09zM399.09 350.54H431.1V352.12H399.09zM401.19 352.12H431.1V353.69H401.19zM423.23 353.69H431.1V355.27H423.23zM404.34 355.27H431.1V356.85H404.34zM403.29 356.85H430.58V358.42H403.29zM407.48 358.42H430.05V360H407.48zM400.66 360H431.1V361.57H400.66zM400.66 361.57H429.53V363.15H400.66zM390.69 363.15H431.1V364.72H390.69zM400.66 364.72H429.53V366.3H400.66zM388.59 366.3H431.1V367.88H388.59zM396.99 367.88H431.1V369.45H396.99zM403.29 369.45H431.1V371.03H403.29zM394.89 371.03H431.1V372.6H394.89zM383.35 372.6H431.1V374.18H383.35zM398.04 374.18H431.1V375.76H398.04zM411.16 375.76H431.1V377.33H411.16zM403.29 377.33H431.1V378.91H403.29zM403.29 378.91H431.1V380.48H403.29zM404.34 380.48H431.1V382.06H404.34zM413.78 382.06H427.43V383.64H413.78zM411.68 383.64H427.43V385.21H411.68zM402.24 385.21H430.58V386.79H402.24zM409.58 386.79H429.53V388.36H409.58zM413.78 388.36H431.1V389.94H413.78zM419.03 389.94H431.1V391.51H419.03zM425.33 391.51H431.1V393.09H425.33zM419.03 393.09H429.53V394.67H419.03zM408.53 394.67H428.48V396.24H408.53zM421.65 396.24H428.48V397.82H421.65zM417.98 397.82H429.53V399.39H417.98zM412.73 399.39H431.1V400.97H412.73zM400.14 400.97H429.53V402.55H400.14zM412.73 402.55H431.1V404.12H412.73zM415.88 404.12H428.48V405.7H415.88zM413.78 405.7H429.53V407.27H413.78zM415.88 407.27H431.1V408.85H415.88zM417.98 408.85H431.1V410.43H417.98zM417.98 410.43H431.1V412H417.98zM413.78 412H431.1V413.58H413.78zM412.73 413.58H431.1V415.15H412.73zM411.68 415.15H431.1V416.73H411.68zM411.68 416.73H431.1V418.3H411.68zM410.63 418.3H431.1V419.88H410.63zM396.99 419.88H414.83V421.46H396.99zM413.78 421.46H415.88V423.03H413.78zM419.03 423.03H424.28V424.61H419.03zM419.03 424.61H424.28V426.18H419.03zM412.73 426.18H424.28V427.76H412.73zM413.78 427.76H425.33V429.34H413.78zM412.73 429.34H425.33V430.91H412.73zM409.58 430.91H416.93V432.49H409.58zM410.63 432.49H416.93V434.06H410.63zM415.88 434.06H424.28V435.64H415.88zM421.13 435.64H425.33V437.22H421.13zM422.7 437.22H426.9V438.79H422.7zM423.75 438.79H426.9V440.37H423.75zM424.28 440.37H427.43V441.94H424.28zM419.03 441.94H428.48V443.52H419.03zM415.88 443.52H426.9V445.09H415.88zM414.83 445.09H426.38V446.67H414.83zM402.24 446.67H414.83V448.25H402.24zM415.88 448.25H424.28V449.82H415.88zM415.88 449.82H424.28V451.4H415.88zM413.78 451.4H423.23V452.97H413.78zM411.68 452.97H421.13V454.55H411.68zM410.63 454.55H424.28V456.13H410.63zM409.58 456.13H426.38V457.7H409.58zM404.34 457.7H430.58V459.28H404.34zM415.88 459.28H431.1V460.85H415.88zM417.98 460.85H431.1V462.43H417.98zM419.03 462.43H429.53V464.01H419.03zM421.13 464.01H429.53V465.58H421.13zM419.03 465.58H431.1V467.16H419.03zM417.98 467.16H431.1V468.73H417.98zM413.78 468.73H431.1V470.31H413.78zM410.63 470.31H427.43V471.88H410.63zM409.58 471.88H426.38V473.46H409.58zM411.68 473.46H427.43V475.04H411.68zM417.98 475.04H430.58V476.61H417.98zM417.98 476.61H430.58V478.19H417.98zM419.03 478.19H429.53V479.76H419.03zM420.08 479.76H431.1V481.34H420.08zM417.98 481.34H431.1V482.92H417.98zM416.93 482.92H431.1V484.49H416.93zM417.98 484.49H427.43V486.07H417.98zM420.08 486.07H430.58V487.64H420.08zM421.13 487.64H431.1V489.22H421.13zM421.65 489.22H430.58V490.8H421.65zM419.03 490.8H428.48V492.37H419.03zM400.66 492.37H421.13V493.95H400.66zM406.44 493.95H422.18V495.52H406.44zM412.73 495.52H429.53V497.1H412.73zM415.88 497.1H430.58V498.67H415.88zM413.78 498.67H429.53V500.25H413.78zM417.98 500.25H430.58V501.83H417.98zM414.83 501.83H429.53V503.4H414.83zM411.68 503.4H424.28V504.98H411.68zM407.48 504.98H415.88V506.55H407.48zM409.58 506.55H416.93V508.13H409.58zM415.88 508.13H428.48V509.71H415.88zM417.98 509.71H430.58V511.28H417.98zM415.88 511.28H429.53V512.86H415.88zM410.63 512.86H426.38V514.43H410.63zM411.68 514.43H428.48V516.01H411.68zM417.98 516.01H429.53V517.59H417.98zM420.08 517.59H427.43V519.16H420.08zM421.65 519.16H429.53V520.74H421.65zM417.98 520.74H426.38V522.31H417.98zM410.63 522.31H420.08V523.89H410.63zM413.78 523.89H426.38V525.46H413.78zM420.08 525.46H428.48V527.04H420.08zM419.03 527.04H427.43V528.62H419.03zM417.98 528.62H426.38V530.19H417.98zM416.93 530.19H427.43V531.77H416.93zM415.88 531.77H426.38V533.34H415.88zM414.83 533.34H427.43V534.92H414.83zM415.88 534.92H430.58V536.5H415.88zM414.83 536.5H431.1V538.07H414.83zM378.78 538.07H431.1V539.65H378.78zM373.27 539.65H427.95V541.22H373.27zM375.27 541.22H430.05V542.8H375.27zM372.22 542.8H430.26V544.38H372.22zM382.64 544.38H417.46V545.95H382.64zM374.4 545.95H417.46V547.53H374.4zM381.41 547.53H431.1V549.1H381.41zM374.79 549.1H431.1V550.68H374.79zM377.1 550.68H431.1V552.25H377.1zM376.66 552.25H431.1V553.83H376.66zM371.81 553.83H426.9V555.41H371.81zM372.82 555.41H426.9V556.98H372.82zM372.01 556.98H430.26V558.56H372.01zM372.22 558.56H430.58V560.13H372.22zM372.22 560.13H431.1V561.71H372.22zM372.01 561.71H430.79V563.29H372.01zM378.85 563.29H431.1V564.86H378.85zM373.06 564.86H431.1V566.44H373.06zM373.06 566.44H430.79V568.01H373.06zM372.43 568.01H430.26V569.59H372.43zM372.74 569.59H431.1V571.17H372.74zM372.01 571.17H430.79V572.74H372.01zM376.94 572.74H431.1V574.32H376.94zM376.69 574.32H431.1V575.89H376.69zM376.85 575.89H431.1V577.47H376.85zM376.54 577.47H431.1V579.04H376.54zM373.06 579.04H431.1V580.62H373.06zM374.98 580.62H431.1V582.2H374.98zM382.32 582.2H431.1V583.77H382.32zM381.79 583.77H431.1V585.35H381.79zM372.74 585.35H431.1V586.92H372.74zM373.06 586.92H431.1V588.5H373.06zM373.66 588.5H431.1V590.08H373.66zM372.22 590.08H431.1V591.65H372.22zM372.22 591.65H430.58V593.23H372.22zM373.06 593.23H431.1V594.8H373.06zM376.06 594.8H430.58V596.38H376.06zM372.43 596.38H430.26V597.96H372.43zM373.06 597.96H430.26V599.53H373.06zM374.93 599.53H429.53V601.11H374.93zM375.24 601.11H429.53V602.68H375.24zM373.06 602.68H431.1V604.26H373.06zM372.06 604.26H430.05V605.83H372.06zM372.43 605.83H431.1V607.41H372.43zM380.48 607.41H431.1V608.99H380.48zM373.06 608.99H430.58V610.56H373.06zM373.06 610.56H431.1V612.14H373.06zM372.01 612.14H430.58V613.71H372.01zM372.43 613.71H430.26V615.29H372.43zM373.06 615.29H430.26V616.87H373.06zM373.06 616.87H431.1V618.44H373.06zM372.43 618.44H430.58V620.02H372.43zM373.06 620.02H430.26V621.59H373.06zM372.74 621.59H430.26V623.17H372.74zM372.22 623.17H430.26V624.75H372.22zM372.43 624.75H430.26V626.32H372.43zM372.22 626.32H430.58V627.9H372.22zM372.22 627.9H430.58V629.47H372.22zM372.01 629.47H430.58V631.05H372.01zM372.74 631.05H430.79V632.62H372.74zM372.01 632.62H431.1V634.2H372.01zM372.74 634.2H431.1V635.78H372.74zM374.65 635.78H431.1V637.35H374.65zM372.43 637.35H431.1V638.93H372.43zM372.22 638.93H430.79V640.5H372.22zM374.05 640.5H427.95V642.08H374.05zM374.83 642.08H427.95V643.66H374.83zM375.44 643.66H431.1V645.23H375.44zM372.22 645.23H431.1V646.81H372.22zM374.84 646.81H431.1V648.38H374.84zM372.74 648.38H431.1V649.96H372.74zM372.22 649.96H431.1V651.54H372.22zM372.74 651.54H430.26V653.11H372.74zM376.95 653.11H431.1V654.69H376.95zM376.97 654.69H431.1V656.26H376.97zM372.43 656.26H430.79V657.84H372.43zM378.72 657.84H431.1V659.41H378.72zM372.43 659.41H431.1V660.99H372.43zM372.43 660.99H430.26V662.57H372.43zM377 662.57H431.1V664.14H377zM372.01 664.14H430.58V665.72H372.01zM372.43 665.72H430.26V667.29H372.43zM373.5 667.29H431.1V668.87H373.5zM373.06 668.87H431.1V670.45H373.06zM372.01 670.45H431.1V672.02H372.01zM372.01 672.02H431.1V673.6H372.01zM374.18 673.6H430.05V675.17H374.18zM381.81 675.17H431.1V676.75H381.81zM372.22 676.75H430.79V678.33H372.22zM372.59 678.33H426.9V679.9H372.59zM372.74 679.9H430.79V681.48H372.74zM372.23 681.48H430.05V683.05H372.23zM373.06 683.05H430.26V684.63H373.06zM372.4 684.63H426.9V686.2H372.4zM372.54 686.2H426.9V687.78H372.54zM372.01 687.78H430.79V689.36H372.01zM372.01 689.36H431.1V690.93H372.01zM372.74 690.93H431.1V692.51H372.74zM372.43 692.51H431.1V694.08H372.43zM372.01 694.08H430.79V695.66H372.01zM372.01 695.66H430.26V697.24H372.01zM372.22 697.24H431.1V698.81H372.22zM372.43 698.81H431.1V700.39H372.43zM372.74 700.39H431.1V701.96H372.74zM372.16 701.96H429.53V703.54H372.16zM373.06 703.54H430.58V705.12H373.06zM375.4 705.12H431.1V706.69H375.4zM374.71 706.69H431.1V708.27H374.71zM375.61 708.27H431.1V709.84H375.61zM376.03 709.84H431.1V711.42H376.03zM375.72 711.42H431.1V712.99H375.72zM380.84 712.99H431.1V714.57H380.84zM380.89 714.57H431.1V716.15H380.89zM376.58 716.15H431.1V717.72H376.58zM372.22 717.72H430.79V719.3H372.22zM376.13 719.3H431.1V720.87H376.13zM376.03 720.87H431.1V722.45H376.03zM374.64 722.45H431.1V724.03H374.64zM374.89 724.03H431.1V725.6H374.89zM372.22 725.6H430.79V727.18H372.22zM372.43 727.18H431.1V728.75H372.43zM372.84 728.75H426.9V730.33H372.84zM371.84 730.33H426.9V731.91H371.84zM372.01 731.91H430.26V733.48H372.01zM376.05 733.48H431.1V735.06H376.05zM372.22 735.06H430.26V736.63H372.22zM372.74 736.63H431.1V738.21H372.74zM372.74 738.21H431.1V739.78H372.74zM380.36 739.78H431.1V741.36H380.36zM380.35 741.36H431.1V742.94H380.35zM380.36 742.94H431.1V744.51H380.36zM373.06 744.51H430.58V746.09H373.06zM373.06 746.09H430.79V747.66H373.06zM378.29 747.66H430.05V749.24H378.29zM382.8 749.24H431.1V750.82H382.8zM372.43 750.82H431.1V752.39H372.43zM372.22 752.39H430.58V753.97H372.22zM372.43 753.97H431.1V755.54H372.43zM372.68 755.54H427.95V757.12H372.68zM371.81 757.12H427.95V758.7H371.81zM372.43 758.7H430.58V760.27H372.43zM372.22 760.27H431.1V761.85H372.22zM372.01 761.85H430.58V763.42H372.01zM373.06 763.42H430.79V765H373.06zM373.06 765H431.1V766.57H373.06zM372.43 766.57H431.1V768.15H372.43zM373.33 768.15H430.05V769.73H373.33zM372.49 769.73H422.7V771.3H372.49zM383.29 771.3H431.1V772.88H383.29zM372.43 772.88H430.79V774.45H372.43zM372.81 774.45H425.85V776.03H372.81zM376.49 776.03H431.1V777.61H376.49zM373.06 777.61H430.79V779.18H373.06zM380.98 779.18H431.1V780.76H380.98zM372.43 780.76H431.1V782.33H372.43zM372.43 782.33H431.1V783.91H372.43zM378.62 783.91H431.1V785.49H378.62zM372.74 785.49H431.1V787.06H372.74zM372.74 787.06H430.79V788.64H372.74zM373.06 788.64H431.1V790.21H373.06zM374.68 790.21H431.1V791.79H374.68zM372.01 791.79H431.1V793.36H372.01zM372.43 793.36H431.1V794.94H372.43zM372.22 794.94H430.58V796.52H372.22zM373.06 796.52H431.1V798.09H373.06zM374.84 798.09H430.05V799.67H374.84zM372.43 799.67H430.79V801.24H372.43zM372.22 801.24H431.1V802.82H372.22zM374.51 802.82H431.1V804.4H374.51zM374.45 804.4H431.1V805.97H374.45zM372.22 805.97H430.26V807.55H372.22zM379.03 807.55H427.95V809.12H379.03zM388.41 809.12H431.1V810.7H388.41zM389.1 810.7H431.1V812.28H389.1zM372.22 812.28H430.79V813.85H372.22zM379.38 813.85H427.95V815.43H379.38zM379.3 815.43H427.95V817H379.3zM372.01 817H430.26V818.58H372.01zM372.74 818.58H430.26V820.15H372.74zM372.47 820.15H427.43V821.73H372.47zM378.12 821.73H427.43V823.31H378.12zM373.06 823.31H430.26V824.88H373.06zM372.01 824.88H430.26V826.46H372.01zM372.22 826.46H431.1V828.03H372.22zM374.46 828.03H431.1V829.61H374.46zM374.56 829.61H431.1V831.19H374.56zM372.43 831.19H431.1V832.76H372.43zM372.74 832.76H430.58V834.34H372.74zM373.06 834.34H431.1V835.91H373.06zM372.01 835.91H430.26V837.49H372.01zM372.22 837.49H430.58V839.07H372.22zM373.13 839.07H431.1V840.64H373.13zM373.33 840.64H431.1V842.22H373.33zM372.92 842.22H431.1V843.79H372.92zM373.06 843.79H430.26V845.37H373.06zM372.01 845.37H430.26V846.94H372.01zM372.01 846.94H430.58V848.52H372.01zM382.04 848.52H431.1V850.1H382.04zM373.45 850.1H431.1V851.67H373.45zM372.43 851.67H431.1V853.25H372.43zM372.22 853.25H431.1V854.82H372.22zM372.74 854.82H430.58V856.4H372.74zM372.74 856.4H431.1V857.98H372.74zM372.74 857.98H430.79V859.55H372.74zM372.01 859.55H430.26V861.13H372.01zM372.22 861.13H431.1V862.7H372.22zM378.2 862.7H431.1V864.28H378.2zM377.92 864.28H431.1V865.86H377.92zM372.43 865.86H430.26V867.43H372.43zM373.97 867.43H431.1V869.01H373.97zM372.01 869.01H430.58V870.58H372.01zM372.01 870.58H430.58V872.16H372.01zM372.43 872.16H431.1V873.73H372.43zM372.22 873.73H430.58V875.31H372.22zM372.43 875.31H430.26V876.89H372.43zM386.27 876.89H431.1V878.46H386.27zM386.46 878.46H431.1V880.04H386.46zM378.9 880.04H431.1V881.61H378.9zM379.14 881.61H431.1V883.19H379.14zM389.69 883.19H431.1V884.77H389.69zM378.95 884.77H431.1V886.34H378.95zM374.51 886.34H431.1V887.92H374.51zM374.92 887.92H431.1V889.49H374.92zM384.17 889.49H426.9V891.07H384.17zM383.95 891.07H426.9V892.64H383.95zM378.1 892.64H431.1V894.22H378.1zM378.62 894.22H431.1V895.8H378.62zM379.67 895.8H431.1V897.37H379.67zM375.88 897.37H431.1V898.95H375.88zM376.44 898.95H431.1V900.52H376.44zM377.5 900.52H431.1V902.1H377.5zM381.85 902.1H431.1V903.68H381.85zM382.92 903.68H431.1V905.25H382.92zM383.6 905.25H431.1V906.83H383.6zM378.9 906.83H431.1V908.4H378.9zM379 908.4H431.1V909.98H379zM386.6 909.98H431.1V911.56H386.6zM389.78 911.56H431.1V913.13H389.78zM385.21 913.13H431.1V914.71H385.21zM385.04 914.71H431.1V916.28H385.04zM429.53 916.28H430.94V917.86H429.53zM418.51 917.86H430.48V919.43H418.51zM421.13 919.43H430.5V921.01H421.13zM423.23 921.01H428.15V922.59H423.23zM427.77 922.59H430.89V924.16H427.77zM427.97 924.16H430.89V925.74H427.97zM426.83 925.74H430.89V927.31H426.83zM426.99 927.31H429.74V928.89H426.99zM427.02 928.89H430.47V930.47H427.02zM430.32 932.04H430.89V933.62H430.32zM426.97 935.19H430.32V936.77H426.97zM422.74 936.77H427.26V938.35H422.74zM423.01 939.92H429.35V941.5H423.01zM429.17 941.5H430.74V943.07H429.17zM423.72 943.07H430.29V944.65H423.72zM422.97 944.65H428.32V946.22H422.97zM423.34 946.22H429.27V947.8H423.34zM424.45 947.8H429.2V949.38H424.45zM428.68 949.38H430.49V950.95H428.68zM425.78 950.95H430.54V952.53H425.78zM427.26 952.53H430.89V954.1H427.26zM428.64 954.1H430.76V955.68H428.64zM429.53 955.68H430.23V957.26H429.53zM423.63 957.26H430.89V958.83H423.63zM424.71 958.83H430.09V960.41H424.71zM422.99 960.41H430.89V961.98H422.99zM425.95 961.98H428.73V963.56H425.95zM429.75 965.14H430.35V966.71H429.75zM429.03 966.71H429.94V968.29H429.03zM428.69 968.29H430.86V969.86H428.69zM428.23 969.86H430.89V971.44H428.23zM428.03 971.44H430.79V973.01H428.03zM427.42 973.01H429.26V974.59H427.42zM430.18 976.17H430.89V977.74H430.18zM425.58 977.74H430.89V979.32H425.58zM430.05 979.32H430.89V980.89H430.05zM421.43 980.89H427.97V982.47H421.43zM427.06 982.47H430.1V984.05H427.06zM421.07 984.05H430.09V985.62H421.07zM425.37 985.62H428.14V987.2H425.37zM426.74 987.2H428.13V988.77H426.74zM418.57 990.35H424.23V991.93H418.57zM428.1 991.93H430.89V993.5H428.1zM429.15 993.5H430.57V995.08H429.15zM428.75 995.08H430.89V996.65H428.75zM429.07 996.65H430.89V998.23H429.07zM427.39 998.23H430.55V999.8H427.39zM427.74 999.8H430.89V1001.38H427.74zM426.55 1001.38H428.95V1002.96H426.55zM427.81 1002.96H430.89V1004.53H427.81zM428.4 1004.53H430.36V1006.11H428.4zM427.57 1006.11H430.89V1007.68H427.57zM424.94 1007.68H429.89V1009.26H424.94zM426.93 1009.26H430.89V1010.84H426.93zM424.44 1012.41H429.69V1013.99H424.44zM429.7 1013.99H430.07V1015.56H429.7zM429.04 1015.56H430.25V1017.14H429.04zM430.21 1017.14H430.89V1018.72H430.21zM428.03 1018.72H430.56V1020.29H428.03zM429.36 1020.29H430.89V1021.87H429.36zM430.56 1021.87H430.89V1023.44H430.56zM429.25 1023.44H430.93V1025.02H429.25zM430.74 1025.02H430.89V1026.59H430.74zM424.39 1028.17H430.89V1029.75H424.39zM425.4 1032.9H430.89V1034.47H425.4zM424.85 1034.47H429.87V1036.05H424.85zM428.84 1036.05H430.89V1037.63H428.84zM428.58 1037.63H430.89V1039.2H428.58zM429.61 1039.2H431.1V1040.78H429.61zM428.88 1040.78H430.13V1042.35H428.88zM421.72 1043.93H430.89V1045.51H421.72zM425.34 1045.51H429.04V1047.08H425.34zM429.66 1047.08H430.89V1048.66H429.66zM429.51 1048.66H429.93V1050.23H429.51zM428.14 1050.23H430.89V1051.81H428.14zM427.86 1051.81H430.89V1053.38H427.86zM429.16 1053.38H430.25V1054.96H429.16zM428.53 1054.96H429.8V1056.54H428.53zM429.84 1056.54H430.89V1058.11H429.84zM426.47 1058.11H430.89V1059.69H426.47zM426.57 1059.69H430.89V1061.26H426.57zM423.71 1062.84H429.8V1064.42H423.71zM422.12 1064.42H430.37V1065.99H422.12zM417.76 1065.99H426.09V1067.57H417.76zM423.37 1067.57H426.43V1069.14H423.37zM417.1 1069.14H426.45V1070.72H417.1zM426.42 1070.72H429.7V1072.3H426.42zM427.49 1072.3H428.71V1073.87H427.49zM428.63 1073.87H429.57V1075.45H428.63zM427.46 1075.45H429.97V1077.02H427.46zM426.73 1077.02H430.42V1078.6H426.73zM429.28 1080.17H430.89V1081.75H429.28zM429.92 1084.9H430.89V1086.48H429.92zM429.09 1086.48H430.57V1088.05H429.09zM425.45 1088.05H429.1V1089.63H425.45zM423.25 1089.63H429.12V1091.21H423.25zM427.1 1092.78H429.53V1094.36H427.1zM425.8 1094.36H430.89V1095.93H425.8zM421.41 1099.09H426.07V1100.66H421.41zM421.94 1100.66H428V1102.24H421.94zM420.18 1102.24H426.04V1103.81H420.18zM423.89 1105.39H429.83V1106.96H423.89zM428.41 1106.96H429.18V1108.54H428.41zM424.08 1108.54H430.84V1110.12H424.08zM425.31 1110.12H430.89V1111.69H425.31zM417.46 1111.69H430.1V1113.27H417.46zM422.66 1113.27H430.89V1114.84H422.66zM417.74 1114.84H428.03V1116.42H417.74zM413.39 1116.42H430.89V1118H413.39zM413.5 1118H430.6V1119.57H413.5zM413.91 1119.57H429.83V1121.15H413.91zM414.94 1121.15H428.44V1122.72H414.94zM427.49 1122.72H430.89V1124.3H427.49zM421.16 1124.3H429.59V1125.88H421.16zM421.08 1125.88H428V1127.45H421.08zM419.59 1127.45H428.95V1129.03H419.59zM420.98 1129.03H430.43V1130.6H420.98zM425.22 1130.6H429.69V1132.18H425.22zM424.75 1132.18H430.46V1133.75H424.75zM430.05 1133.75H430.89V1135.33H430.05zM428.31 1135.33H430.16V1136.91H428.31zM417.81 1136.91H429.91V1138.48H417.81zM421.3 1138.48H429.54V1140.06H421.3zM429.48 1140.06H430.89V1141.63H429.48zM422.76 1141.63H429.1V1143.21H422.76zM427.32 1143.21H430.3V1144.79H427.32zM426.14 1144.79H428.66V1146.36H426.14zM426.21 1146.36H428.18V1147.94H426.21zM417.33 1147.94H430.87V1149.51H417.33zM427.69 1149.51H430.89V1151.09H427.69zM421.86 1151.09H428.97V1152.67H421.86zM421.22 1152.67H430.41V1154.24H421.22zM422.28 1154.24H425.79V1155.82H422.28zM424.75 1155.82H426.43V1157.39H424.75zM421.19 1157.39H426.41V1158.97H421.19zM421.19 1158.97H427.81V1160.54H421.19zM420.24 1160.54H428.62V1162.12H420.24zM419.98 1162.12H428.23V1163.7H419.98zM417.59 1163.7H425.78V1165.27H417.59zM418.12 1165.27H425.71V1166.85H418.12zM420.07 1166.85H424.32V1168.42H420.07zM419.22 1168.42H423.32V1170H419.22z"/>
</g>
<path d="M93 64.4H152.2M163.5 64.4H222.75M233.9 64.4H293M302.8 64.4H361.9M371.8 64.4H431.1M93 87.4H152.2M163.5 87.4H222.75M233.9 87.4H293M302.8 87.4H361.9M371.8 87.4H431.1M93 106.5H152.2M163.5 106.5H222.75M233.9 106.5H293M302.8 106.5H361.9M371.8 106.5H431.1M93 117.6H152.2M163.5 117.6H222.75M233.9 117.6H293M302.8 117.6H361.9M371.8 117.6H431.1M93 157H152.2M163.5 157H222.75M233.9 157H293M302.8 157H361.9M371.8 157H431.1M93 194.5H152.2M163.5 194.5H222.75M233.9 194.5H293M302.8 194.5H361.9M371.8 194.5H431.1M93 196.2H152.2M163.5 196.2H222.75M233.9 196.2H293M302.8 196.2H361.9M371.8 196.2H431.1M93 197.8H152.2M163.5 197.8H222.75M233.9 197.8H293M302.8 197.8H361.9M371.8 197.8H431.1M93 201.1H152.2M163.5 201.1H222.75M233.9 201.1H293M302.8 201.1H361.9M371.8 201.1H431.1M93 204H152.2M163.5 204H222.75M233.9 204H293M302.8 204H361.9M371.8 204H431.1M93 207.2H152.2M163.5 207.2H222.75M233.9 207.2H293M302.8 207.2H361.9M371.8 207.2H431.1M93 222.5H152.2M163.5 222.5H222.75M233.9 222.5H293M302.8 222.5H361.9M371.8 222.5H431.1M93 262.3H152.2M163.5 262.3H222.75M233.9 262.3H293M302.8 262.3H361.9M371.8 262.3H431.1M93 301.3H152.2M163.5 301.3H222.75M233.9 301.3H293M302.8 301.3H361.9M371.8 301.3H431.1M93 340.6H152.2M163.5 340.6H222.75M233.9 340.6H293M302.8 340.6H361.9M371.8 340.6H431.1M93 380.2H152.2M163.5 380.2H222.75M233.9 380.2H293M302.8 380.2H361.9M371.8 380.2H431.1M93 419.5H152.2M163.5 419.5H222.75M233.9 419.5H293M302.8 419.5H361.9M371.8 419.5H431.1M93 458.4H152.2M163.5 458.4H222.75M233.9 458.4H293M302.8 458.4H361.9M371.8 458.4H431.1M93 498.1H152.2M163.5 498.1H222.75M233.9 498.1H293M302.8 498.1H361.9M371.8 498.1H431.1M93 537.4H152.2M163.5 537.4H222.75M233.9 537.4H293M302.8 537.4H361.9M371.8 537.4H431.1M93 554.2H152.2M163.5 554.2H222.75M233.9 554.2H293M302.8 554.2H361.9M371.8 554.2H431.1M93 570.4H152.2M163.5 570.4H222.75M233.9 570.4H293M302.8 570.4H361.9M371.8 570.4H431.1M93 586.25H152.2M163.5 586.25H222.75M233.9 586.25H293M302.8 586.25H361.9M371.8 586.25H431.1M93 656.9H152.2M163.5 656.9H222.75M233.9 656.9H293M302.8 656.9H361.9M371.8 656.9H431.1M93 672.5H152.2M163.5 672.5H222.75M233.9 672.5H293M302.8 672.5H361.9M371.8 672.5H431.1M93 688.4H152.2M163.5 688.4H222.75M233.9 688.4H293M302.8 688.4H361.9M371.8 688.4H431.1M93 704H152.2M163.5 704H222.75M233.9 704H293M302.8 704H361.9M371.8 704H431.1M93 719.75H152.2M163.5 719.75H222.75M233.9 719.75H293M302.8 719.75H361.9M371.8 719.75H431.1M93 735.5H152.2M163.5 735.5H222.75M233.9 735.5H293M302.8 735.5H361.9M371.8 735.5H431.1M93 751.25H152.2M163.5 751.25H222.75M233.9 751.25H293M302.8 751.25H361.9M371.8 751.25H431.1M93 766.7H152.2M163.5 766.7H222.75M233.9 766.7H293M302.8 766.7H361.9M371.8 766.7H431.1M93 782.5H152.2M163.5 782.5H222.75M233.9 782.5H293M302.8 782.5H361.9M371.8 782.5H431.1M93 798.2H152.2M163.5 798.2H222.75M233.9 798.2H293M302.8 798.2H361.9M371.8 798.2H431.1M93 812.2H152.2M163.5 812.2H222.75M233.9 812.2H293M302.8 812.2H361.9M371.8 812.2H431.1M93 828.2H152.2M163.5 828.2H222.75M233.9 828.2H293M302.8 828.2H361.9M371.8 828.2H431.1M93 877H152.2M163.5 877H222.75M233.9 877H293M302.8 877H361.9M371.8 877H431.1M93 961.5H152.2M163.5 961.5H222.75M233.9 961.5H293M302.8 961.5H361.9M371.8 961.5H431.1M93 999.5H152.2M163.5 999.5H222.75M233.9 999.5H293M302.8 999.5H361.9M371.8 999.5H431.1M93 1043.4H152.2M163.5 1043.4H222.75M233.9 1043.4H293M302.8 1043.4H361.9M371.8 1043.4H431.1M93 1056.25H152.2M163.5 1056.25H222.75M233.9 1056.25H293M302.8 1056.25H361.9M371.8 1056.25H431.1M93 1078.4H152.2M163.5 1078.4H222.75M233.9 1078.4H293M302.8 1078.4H361.9M371.8 1078.4H431.1M93 1103.4H152.2M163.5 1103.4H222.75M233.9 1103.4H293M302.8 1103.4H361.9M371.8 1103.4H431.1M93 1142.5H152.2M163.5 1142.5H222.75M233.9 1142.5H293M302.8 1142.5H361.9M371.8 1142.5H431.1" stroke="#000" stroke-opacity=".55" stroke-width=".7" fill="none"/>
<rect x="93.15" y="6.15" width="58.9" height="1164.3" fill="none" stroke="#000" stroke-width="2.3"/>
<rect x="163.65" y="6.15" width="58.95" height="1164.3" fill="none" stroke="#000" stroke-width="2.3"/>
<rect x="234.05" y="6.15" width="58.8" height="1164.3" fill="none" stroke="#000" stroke-width="2.3"/>
<rect x="302.95" y="6.15" width="58.8" height="1164.3" fill="none" stroke="#000" stroke-width="2.3"/>
<rect x="371.95" y="6.15" width="59" height="1164.3" fill="none" stroke="#000" stroke-width="2.3"/>
<rect x="92" y="5" width="61.2" height="3.1" fill="#000"/>
<rect x="162.5" y="5" width="61.25" height="3.1" fill="#000"/>
<rect x="232.9" y="5" width="61.1" height="3.1" fill="#000"/>
<rect x="301.8" y="5" width="61.1" height="3.1" fill="#000"/>
<rect x="370.8" y="5" width="61.3" height="3.1" fill="#000"/>
<g font-family="'Liberation Sans', sans-serif" font-weight="bold" font-size="9.35" fill="#000" stroke="#000" stroke-width=".18" text-rendering="geometricPrecision" filter="url(#g)">
<text x="84.5" y="35.95" dy="4.9" text-anchor="end" transform="rotate(30 84.5 35.95)">Biaka_Pygmies</text>
<text x="84.5" y="75.9" dy="4.9" text-anchor="end" transform="rotate(30 84.5 75.9)">Mbuti_Pygmies</text>
<text x="84.5" y="96.95" dy="4.9" text-anchor="end" transform="rotate(30 84.5 96.95)">Bantu_N.E.</text>
<text x="84.5" y="112.05" dy="4.9" text-anchor="end" transform="rotate(30 84.5 112.05)">San</text>
<text x="84.5" y="137.3" dy="4.9" text-anchor="end" transform="rotate(30 84.5 137.3)">Yoruba</text>
<text x="84.5" y="175.75" dy="4.9" text-anchor="end" transform="rotate(30 84.5 175.75)">Mandenka</text>
<text x="84.5" y="195.35" dy="4.9" text-anchor="end" transform="rotate(30 84.5 195.35)">Bantu_S.E._Pedi</text>
<text x="84.5" y="197" dy="4.9" text-anchor="end" transform="rotate(30 84.5 197)">Bantu_S.E._S.Sotho</text>
<text x="84.5" y="199.45" dy="4.9" text-anchor="end" transform="rotate(30 84.5 199.45)">Bantu_S.E._Tswana</text>
<text x="84.5" y="201.85" dy="4.9" text-anchor="end" transform="rotate(30 84.5 201.85)">Bantu_S.E._Zulu</text>
<text x="84.5" y="204.1" dy="4.9" text-anchor="end" transform="rotate(30 84.5 204.1)">Bantu_S.W._Herero</text>
<text x="84.5" y="206.4" dy="4.9" text-anchor="end" transform="rotate(30 84.5 206.4)">Bantu_S.W._Ovambo</text>
<text x="84.5" y="214.85" dy="4.9" text-anchor="end" transform="rotate(30 84.5 214.85)">Uygur</text>
<text x="84.5" y="242.4" dy="4.9" text-anchor="end" transform="rotate(30 84.5 242.4)">Balochi</text>
<text x="84.5" y="281.8" dy="4.9" text-anchor="end" transform="rotate(30 84.5 281.8)">Brahui</text>
<text x="84.5" y="320.95" dy="4.9" text-anchor="end" transform="rotate(30 84.5 320.95)">Burusho</text>
<text x="84.5" y="360.4" dy="4.9" text-anchor="end" transform="rotate(30 84.5 360.4)">Hazara</text>
<text x="84.5" y="399.85" dy="4.9" text-anchor="end" transform="rotate(30 84.5 399.85)">Kalash</text>
<text x="84.5" y="438.95" dy="4.9" text-anchor="end" transform="rotate(30 84.5 438.95)">Makrani</text>
<text x="84.5" y="478.25" dy="4.9" text-anchor="end" transform="rotate(30 84.5 478.25)">Pathan</text>
<text x="84.5" y="517.75" dy="4.9" text-anchor="end" transform="rotate(30 84.5 517.75)">Sindhi</text>
<text x="84.5" y="545.8" dy="4.9" text-anchor="end" transform="rotate(30 84.5 545.8)">Cambodians</text>
<text x="84.5" y="562.3" dy="4.9" text-anchor="end" transform="rotate(30 84.5 562.3)">Dai</text>
<text x="84.5" y="578.33" dy="4.9" text-anchor="end" transform="rotate(30 84.5 578.33)">Daur</text>
<text x="84.5" y="621.58" dy="4.9" text-anchor="end" transform="rotate(30 84.5 621.58)">Han</text>
<text x="84.5" y="664.7" dy="4.9" text-anchor="end" transform="rotate(30 84.5 664.7)">Hezhen</text>
<text x="84.5" y="680.45" dy="4.9" text-anchor="end" transform="rotate(30 84.5 680.45)">Lahu</text>
<text x="84.5" y="696.2" dy="4.9" text-anchor="end" transform="rotate(30 84.5 696.2)">Miaozu</text>
<text x="84.5" y="711.88" dy="4.9" text-anchor="end" transform="rotate(30 84.5 711.88)">Mongola</text>
<text x="84.5" y="727.62" dy="4.9" text-anchor="end" transform="rotate(30 84.5 727.62)">Naxi</text>
<text x="84.5" y="743.38" dy="4.9" text-anchor="end" transform="rotate(30 84.5 743.38)">Oroqen</text>
<text x="84.5" y="758.98" dy="4.9" text-anchor="end" transform="rotate(30 84.5 758.98)">She</text>
<text x="84.5" y="774.6" dy="4.9" text-anchor="end" transform="rotate(30 84.5 774.6)">Tu</text>
<text x="84.5" y="790.35" dy="4.9" text-anchor="end" transform="rotate(30 84.5 790.35)">Tujia</text>
<text x="84.5" y="805.2" dy="4.9" text-anchor="end" transform="rotate(30 84.5 805.2)">Xibo</text>
<text x="84.5" y="820.2" dy="4.9" text-anchor="end" transform="rotate(30 84.5 820.2)">Yizu</text>
<text x="84.5" y="852.6" dy="4.9" text-anchor="end" transform="rotate(30 84.5 852.6)">Japanese</text>
<text x="84.5" y="896.62" dy="4.9" text-anchor="end" transform="rotate(30 84.5 896.62)">Yakut</text>
<text x="84.5" y="938.88" dy="4.9" text-anchor="end" transform="rotate(30 84.5 938.88)">French</text>
<text x="84.5" y="980.5" dy="4.9" text-anchor="end" transform="rotate(30 84.5 980.5)">French_Basque</text>
<text x="84.5" y="1021.45" dy="4.9" text-anchor="end" transform="rotate(30 84.5 1021.45)">Sardinian</text>
<text x="84.5" y="1049.83" dy="4.9" text-anchor="end" transform="rotate(30 84.5 1049.83)">Tuscan</text>
<text x="84.5" y="1067.33" dy="4.9" text-anchor="end" transform="rotate(30 84.5 1067.33)">North_Italian</text>
<text x="84.5" y="1090.9" dy="4.9" text-anchor="end" transform="rotate(30 84.5 1090.9)">Orcadian</text>
<text x="84.5" y="1122.95" dy="4.9" text-anchor="end" transform="rotate(30 84.5 1122.95)">Russian</text>
<text x="84.5" y="1156" dy="4.9" text-anchor="end" transform="rotate(30 84.5 1156)">Adygei</text>
<text x="439.5" y="35.95" dy="4.9" transform="rotate(30 439.5 35.95)">Central_African_Republic</text>
<text x="439.5" y="75.9" dy="4.9" transform="rotate(30 439.5 75.9)">Democratic_Republic_of_Congo</text>
<text x="439.5" y="96.95" dy="4.9" transform="rotate(30 439.5 96.95)">Kenya</text>
<text x="439.5" y="112.05" dy="4.9" transform="rotate(30 439.5 112.05)">Namibia</text>
<text x="439.5" y="137.3" dy="4.9" transform="rotate(30 439.5 137.3)">Nigeria</text>
<text x="439.5" y="175.75" dy="4.9" transform="rotate(30 439.5 175.75)">Senegal</text>
<text x="439.5" y="195.35" dy="4.9" transform="rotate(30 439.5 195.35)">South_Africa</text>
<text x="439.5" y="197" dy="4.9" transform="rotate(30 439.5 197)">South_Africa</text>
<text x="439.5" y="199.45" dy="4.9" transform="rotate(30 439.5 199.45)">South_Africa</text>
<text x="439.5" y="201.85" dy="4.9" transform="rotate(30 439.5 201.85)">South_Africa</text>
<text x="439.5" y="204.1" dy="4.9" transform="rotate(30 439.5 204.1)">South_Africa</text>
<text x="439.5" y="206.4" dy="4.9" transform="rotate(30 439.5 206.4)">South_Africa</text>
<text x="439.5" y="214.85" dy="4.9" transform="rotate(30 439.5 214.85)">China</text>
<text x="439.5" y="242.4" dy="4.9" transform="rotate(30 439.5 242.4)">Pakistan</text>
<text x="439.5" y="281.8" dy="4.9" transform="rotate(30 439.5 281.8)">Pakistan</text>
<text x="439.5" y="320.95" dy="4.9" transform="rotate(30 439.5 320.95)">Pakistan</text>
<text x="439.5" y="360.4" dy="4.9" transform="rotate(30 439.5 360.4)">Pakistan</text>
<text x="439.5" y="399.85" dy="4.9" transform="rotate(30 439.5 399.85)">Pakistan</text>
<text x="439.5" y="438.95" dy="4.9" transform="rotate(30 439.5 438.95)">Pakistan</text>
<text x="439.5" y="478.25" dy="4.9" transform="rotate(30 439.5 478.25)">Pakistan</text>
<text x="439.5" y="517.75" dy="4.9" transform="rotate(30 439.5 517.75)">Pakistan</text>
<text x="439.5" y="545.8" dy="4.9" transform="rotate(30 439.5 545.8)">Cambodia</text>
<text x="439.5" y="562.3" dy="4.9" transform="rotate(30 439.5 562.3)">China</text>
<text x="439.5" y="578.33" dy="4.9" transform="rotate(30 439.5 578.33)">China</text>
<text x="439.5" y="621.58" dy="4.9" transform="rotate(30 439.5 621.58)">China</text>
<text x="439.5" y="664.7" dy="4.9" transform="rotate(30 439.5 664.7)">China</text>
<text x="439.5" y="680.45" dy="4.9" transform="rotate(30 439.5 680.45)">China</text>
<text x="439.5" y="696.2" dy="4.9" transform="rotate(30 439.5 696.2)">China</text>
<text x="439.5" y="711.88" dy="4.9" transform="rotate(30 439.5 711.88)">China</text>
<text x="439.5" y="727.62" dy="4.9" transform="rotate(30 439.5 727.62)">China</text>
<text x="439.5" y="743.38" dy="4.9" transform="rotate(30 439.5 743.38)">China</text>
<text x="439.5" y="758.98" dy="4.9" transform="rotate(30 439.5 758.98)">China</text>
<text x="439.5" y="774.6" dy="4.9" transform="rotate(30 439.5 774.6)">China</text>
<text x="439.5" y="790.35" dy="4.9" transform="rotate(30 439.5 790.35)">China</text>
<text x="439.5" y="805.2" dy="4.9" transform="rotate(30 439.5 805.2)">China</text>
<text x="439.5" y="820.2" dy="4.9" transform="rotate(30 439.5 820.2)">China</text>
<text x="439.5" y="852.6" dy="4.9" transform="rotate(30 439.5 852.6)">Japan</text>
<text x="439.5" y="896.62" dy="4.9" transform="rotate(30 439.5 896.62)">Siberia</text>
<text x="439.5" y="938.88" dy="4.9" transform="rotate(30 439.5 938.88)">France</text>
<text x="439.5" y="980.5" dy="4.9" transform="rotate(30 439.5 980.5)">France</text>
<text x="439.5" y="1021.45" dy="4.9" transform="rotate(30 439.5 1021.45)">Italy</text>
<text x="439.5" y="1049.83" dy="4.9" transform="rotate(30 439.5 1049.83)">Italy</text>
<text x="439.5" y="1067.33" dy="4.9" transform="rotate(30 439.5 1067.33)">Italy_(Bergamo)</text>
<text x="439.5" y="1090.9" dy="4.9" transform="rotate(30 439.5 1090.9)">Orkney_Islands</text>
<text x="439.5" y="1122.95" dy="4.9" transform="rotate(30 439.5 1122.95)">Russia</text>
<text x="439.5" y="1156" dy="4.9" transform="rotate(30 439.5 1156)">Russia_Caucasus</text>
</g>
<g font-family="'Liberation Sans', sans-serif" font-size="11.45" fill="#000" stroke="#000" stroke-width=".2" text-rendering="geometricPrecision" filter="url(#g)">
<text x="95.8" y="1186.4">K-means</text>
<text x="157.4" y="1186.2">S. K-means</text>
<text x="233" y="1186.2">Spectral w/</text>
<text x="237.3" y="1198.6">K-means</text>
<text x="308" y="1186.2">Spectral w/</text>
<text x="308" y="1198.6">S. K-means</text>
<text x="380.2" y="1186.2">structure</text>
</g>
</svg>
</body>
</html>
